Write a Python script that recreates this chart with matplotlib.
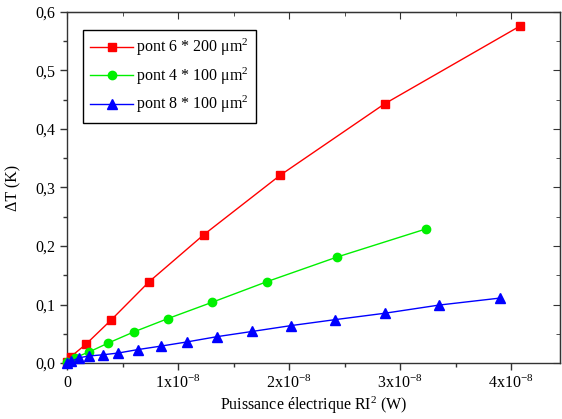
import matplotlib
matplotlib.use("Agg")
import matplotlib.pyplot as plt
from matplotlib.ticker import MultipleLocator, FuncFormatter

plt.rcParams["font.family"] = ["Liberation Serif", "DejaVu Serif"]
plt.rcParams["mathtext.fontset"] = "custom"
plt.rcParams["mathtext.rm"] = "Liberation Serif"

# data (x in units of 1e-8 W, y in K)
red_x = [0.0, 0.036, 0.17, 0.40, 0.74, 1.23, 1.92, 2.86, 4.08]
red_y = [0.002, 0.011, 0.032, 0.074, 0.139, 0.219, 0.321, 0.443, 0.576]

green_x = [0.0, 0.07, 0.20, 0.37, 0.60, 0.91, 1.31, 1.80, 2.43, 3.23]
green_y = [0.001, 0.009, 0.019, 0.034, 0.053, 0.076, 0.104, 0.139, 0.181, 0.229]

blue_x = [0.0, 0.04, 0.11, 0.20, 0.32, 0.46, 0.64, 0.85, 1.08, 1.35,
          1.67, 2.02, 2.41, 2.86, 3.35, 3.90]
blue_y = [0.0, 0.003, 0.009, 0.012, 0.014, 0.017, 0.023, 0.029, 0.036, 0.045,
          0.054, 0.064, 0.074, 0.085, 0.099, 0.111]

labels = [r"pont 6 * 200 μm$\mathregular{^2}$",
          r"pont 4 * 100 μm$\mathregular{^2}$",
          r"pont 8 * 100 μm$\mathregular{^2}$"]

fig = plt.figure(figsize=(5.62, 4.19), dpi=100)
ax = fig.add_axes([67 / 562, 56 / 419, 493 / 562, 351 / 419])

sc = 1e-8
ax.plot([v * sc for v in red_x], red_y, "-s", color="#ff0000", lw=1,
        ms=6, label=labels[0], clip_on=False, zorder=3)
ax.plot([v * sc for v in green_x], green_y, "-o", color="#00f000", lw=1,
        ms=6, label=labels[1], clip_on=False, zorder=3)
ax.plot([v * sc for v in blue_x], blue_y, "-^", color="#0000ff", lw=1,
        ms=7, label=labels[2], clip_on=False, zorder=3)

ax.set_xlim(0, 4.44e-8)
ax.set_ylim(0, 0.6)

ax.xaxis.set_major_locator(MultipleLocator(1e-8))
ax.xaxis.set_minor_locator(MultipleLocator(0.5e-8))
ax.yaxis.set_major_locator(MultipleLocator(0.1))
ax.yaxis.set_minor_locator(MultipleLocator(0.05))


def fmt_x(v, pos):
    n = int(round(v / 1e-8))
    if n == 0:
        return "0"
    return r"%dx10$\mathregular{^{-8}}$" % n


ax.xaxis.set_major_formatter(FuncFormatter(fmt_x))
ax.yaxis.set_major_formatter(FuncFormatter(lambda v, p: ("%.1f" % v).replace(".", ",")))

ax.tick_params(which="both", direction="out", labelsize=11.5, color="#333333")
ax.tick_params(which="major", length=5, width=1)
ax.tick_params(which="minor", length=3, width=1)

# mirrored ticks on top and right, pointing inward
top = ax.secondary_xaxis("top")
top.xaxis.set_major_locator(MultipleLocator(1e-8))
top.xaxis.set_minor_locator(MultipleLocator(0.5e-8))
top.tick_params(which="both", direction="in", labeltop=False, color="#333333")
top.tick_params(which="major", length=5)
top.tick_params(which="minor", length=3)
right = ax.secondary_yaxis("right")
right.yaxis.set_major_locator(MultipleLocator(0.1))
right.yaxis.set_minor_locator(MultipleLocator(0.05))
right.tick_params(which="both", direction="in", labelright=False, color="#333333")
right.tick_params(which="major", length=5)
right.tick_params(which="minor", length=3)

for s in ax.spines.values():
    s.set_color("#333333")
    s.set_linewidth(1)

ax.set_xlabel(r"Puissance électrique RI$\mathregular{^2}$ (W)", fontsize=11.5, labelpad=2)
ax.set_ylabel("ΔT (K)", fontsize=11.5, labelpad=10)

leg = ax.legend(loc="upper left", bbox_to_anchor=(0.032, 0.949), borderaxespad=0,
                fontsize=11.5, fancybox=False, edgecolor="black", framealpha=1,
                handlelength=2.7, handletextpad=0.2, labelspacing=0.45,
                borderpad=0.45)
leg.get_frame().set_linewidth(1)

fig.savefig("out.png", dpi=100)
